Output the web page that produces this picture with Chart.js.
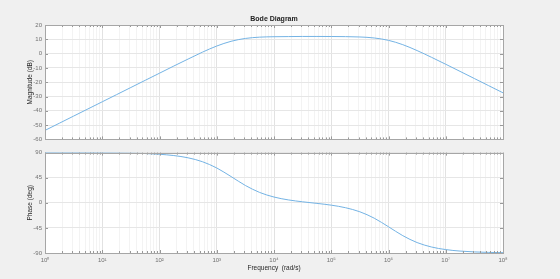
<!DOCTYPE html>
<html>
<head>
<meta charset="utf-8">
<script src="https://cdn.jsdelivr.net/npm/chart.js@4.4.1/dist/chart.umd.min.js"></script>
<style>
  html, body { margin: 0; padding: 0; background: #f0f0f0; }
  .wrap { position: relative; width: 560px; height: 279px; overflow: hidden; }
  .wrap canvas { position: absolute; left: 0; }
  #chartMag { top: 0; }
  #chartPhase { top: 146px; }
</style>
</head>
<body>
<div class="wrap">
  <canvas id="chartMag" width="560" height="146"></canvas>
  <canvas id="chartPhase" width="560" height="133"></canvas>
</div>
<script>
  // 데이터 (rad/s, 4 points per decade)
  var freq = [1, 1.778, 3.162, 5.623,
    10, 17.78, 31.62, 56.23,
    100, 177.8, 316.2, 562.3,
    1000, 1778, 3162, 5623,
    10000, 17780, 31620, 56230,
    100000, 177800, 316200, 562300,
    1000000, 1778000, 3162000, 5623000,
    10000000, 17780000, 31620000, 56230000,
    100000000];
  var magDb = [-53.7, -48.7, -43.7, -38.7,
    -33.7, -28.7, -23.7, -18.7,
    -13.7, -8.7, -3.8, 1.0,
    5.3, 8.6, 10.6, 11.5,
    11.8, 11.9, 12.0, 12.0,
    11.95, 11.87, 11.63, 10.93,
    9.27, 6.24, 2.11, -2.57,
    -7.46, -12.44, -17.43, -22.43,
    -27.43];
  var phaseDeg = [89.97, 89.95, 89.91, 89.83,
    89.7, 89.47, 89.06, 88.32,
    87.02, 84.7, 80.64, 73.67,
    62.43, 47.07, 31.08, 18.54,
    10.32, 5.21, 1.78, -1.06,
    -4.24, -8.83, -16.12, -27.54,
    -42.97, -58.92, -71.29, -79.22,
    -83.89, -86.55, -88.06, -88.91,
    -89.39];
  var decades = [1, 10, 100, 1000, 10000, 100000, 1000000, 10000000, 100000000];
  var xTickLabels = ['10⁰', '10¹', '10²', '10³', '10⁴', '10⁵', '10⁶', '10⁷', '10⁸'];
  var magTicks = [-60, -50, -40, -30, -20, -10, 0, 10, 20];
  var phaseTicks = [-90, -45, 0, 45, 90];

  var lineColor = '#74b3e4';
  var fontFamily = '"Liberation Sans", Arial, sans-serif';

  // 로그축 눈금 (1..9 x 10^n)
  function logTicks() {
    var list = [];
    for (var i = 0; i < decades.length; i++) {
      list.push({ value: decades[i], major: true });
      if (i < decades.length - 1) {
        for (var m = 2; m <= 9; m++) list.push({ value: decades[i] * m, major: false });
      }
    }
    return list;
  }
  function isDecade(v) {
    return decades.indexOf(v) >= 0;
  }

  // 배경 / 테두리 / 안쪽 눈금
  var matlabAxes = {
    id: 'matlabAxes',
    beforeDraw: function (chart) {
      var a = chart.chartArea, ctx = chart.ctx;
      ctx.save();
      ctx.fillStyle = '#ffffff';
      ctx.fillRect(a.left, a.top, a.right - a.left, a.bottom - a.top);
      ctx.restore();
    },
    afterDatasetsDraw: function (chart) {
      var a = chart.chartArea, ctx = chart.ctx;
      var xs = chart.scales.x, ys = chart.scales.y;
      ctx.save();
      ctx.strokeStyle = '#999999';
      ctx.lineWidth = 1;
      ctx.beginPath();
      xs.ticks.forEach(function (t) {
        var px = Math.round(xs.getPixelForValue(t.value)) + 0.5;
        var len = isDecade(t.value) ? 3 : 2;
        ctx.moveTo(px, a.top); ctx.lineTo(px, a.top + len);
        ctx.moveTo(px, a.bottom); ctx.lineTo(px, a.bottom - len);
      });
      ys.ticks.forEach(function (t) {
        var py = Math.round(ys.getPixelForValue(t.value)) + 0.5;
        ctx.moveTo(a.left, py); ctx.lineTo(a.left + 3, py);
        ctx.moveTo(a.right, py); ctx.lineTo(a.right - 3, py);
      });
      ctx.stroke();
      ctx.strokeStyle = '#a6a6a6';
      ctx.strokeRect(Math.round(a.left) + 0.5, Math.round(a.top) + 0.5,
        Math.round(a.right - a.left), Math.round(a.bottom - a.top));
      ctx.restore();
    }
  };

  function points(ys) {
    return freq.map(function (f, i) { return { x: f, y: ys[i] }; });
  }

  function createBode(ctx, opt) {
    return new Chart(ctx, {
      type: 'line',
      data: {
        datasets: [{
          data: points(opt.values),
          borderColor: lineColor,
          borderWidth: 1,
          pointRadius: 0,
          cubicInterpolationMode: 'monotone',
          fill: false
        }]
      },
      options: {
        responsive: false,
        animation: false,
        events: [],
        layout: { padding: opt.padding },
        plugins: {
          legend: false,
          tooltip: false,
          title: opt.title ? {
            display: true,
            text: opt.title,
            fullSize: false,
            color: '#222222',
            font: { family: fontFamily, size: 7, weight: 'bold' },
            padding: { top: 14.8, bottom: 1.8 }
          } : { display: false }
        },
        scales: {
          x: {
            type: 'logarithmic',
            min: 1,
            max: 100000000,
            afterBuildTicks: function (s) { s.ticks = logTicks(); },
            afterFit: function (s) { s.height = opt.xHeight; },
            border: { display: false },
            grid: {
              drawTicks: false,
              color: function (c) {
                return c.tick && isDecade(c.tick.value) ? '#e2e2e2' : '#f3f3f3';
              }
            },
            ticks: {
              display: opt.showX,
              autoSkip: false,
              maxRotation: 0,
              padding: 4,
              color: '#707070',
              font: { family: fontFamily, size: 6 },
              callback: function (v) {
                var i = decades.indexOf(v);
                return i >= 0 ? xTickLabels[i] : '';
              }
            },
            title: {
              display: opt.showX,
              text: 'Frequency  (rad/s)',
              color: '#262626',
              font: { family: fontFamily, size: 6.5 },
              padding: { top: 0, bottom: 7 }
            }
          },
          y: {
            min: opt.ticks[0],
            max: opt.ticks[opt.ticks.length - 1],
            afterBuildTicks: function (s) {
              s.ticks = opt.ticks.map(function (v) { return { value: v }; });
            },
            afterFit: function (s) { s.width = 19; },
            border: { display: false },
            grid: { drawTicks: false, color: '#e6e6e6' },
            ticks: {
              padding: 3,
              color: '#707070',
              font: { family: fontFamily, size: 6 }
            },
            title: {
              display: true,
              text: opt.yTitle,
              color: '#262626',
              font: { family: fontFamily, size: 6.5 },
              padding: { top: 0, bottom: 0 }
            }
          }
        }
      },
      plugins: [matlabAxes]
    });
  }

  // 차트
  createBode(document.getElementById('chartMag').getContext('2d'), {
    values: magDb,
    ticks: magTicks,
    yTitle: 'Magnitude (dB)',
    title: 'Bode Diagram',
    showX: false,
    xHeight: 0,
    padding: { left: 26, right: 57, top: 0, bottom: 2 }
  });
  createBode(document.getElementById('chartPhase').getContext('2d'), {
    values: phaseDeg,
    ticks: phaseTicks,
    yTitle: 'Phase (deg)',
    title: null,
    showX: true,
    xHeight: 26,
    padding: { left: 26, right: 57, top: 3, bottom: 0 }
  });
</script>
</body>
</html>
